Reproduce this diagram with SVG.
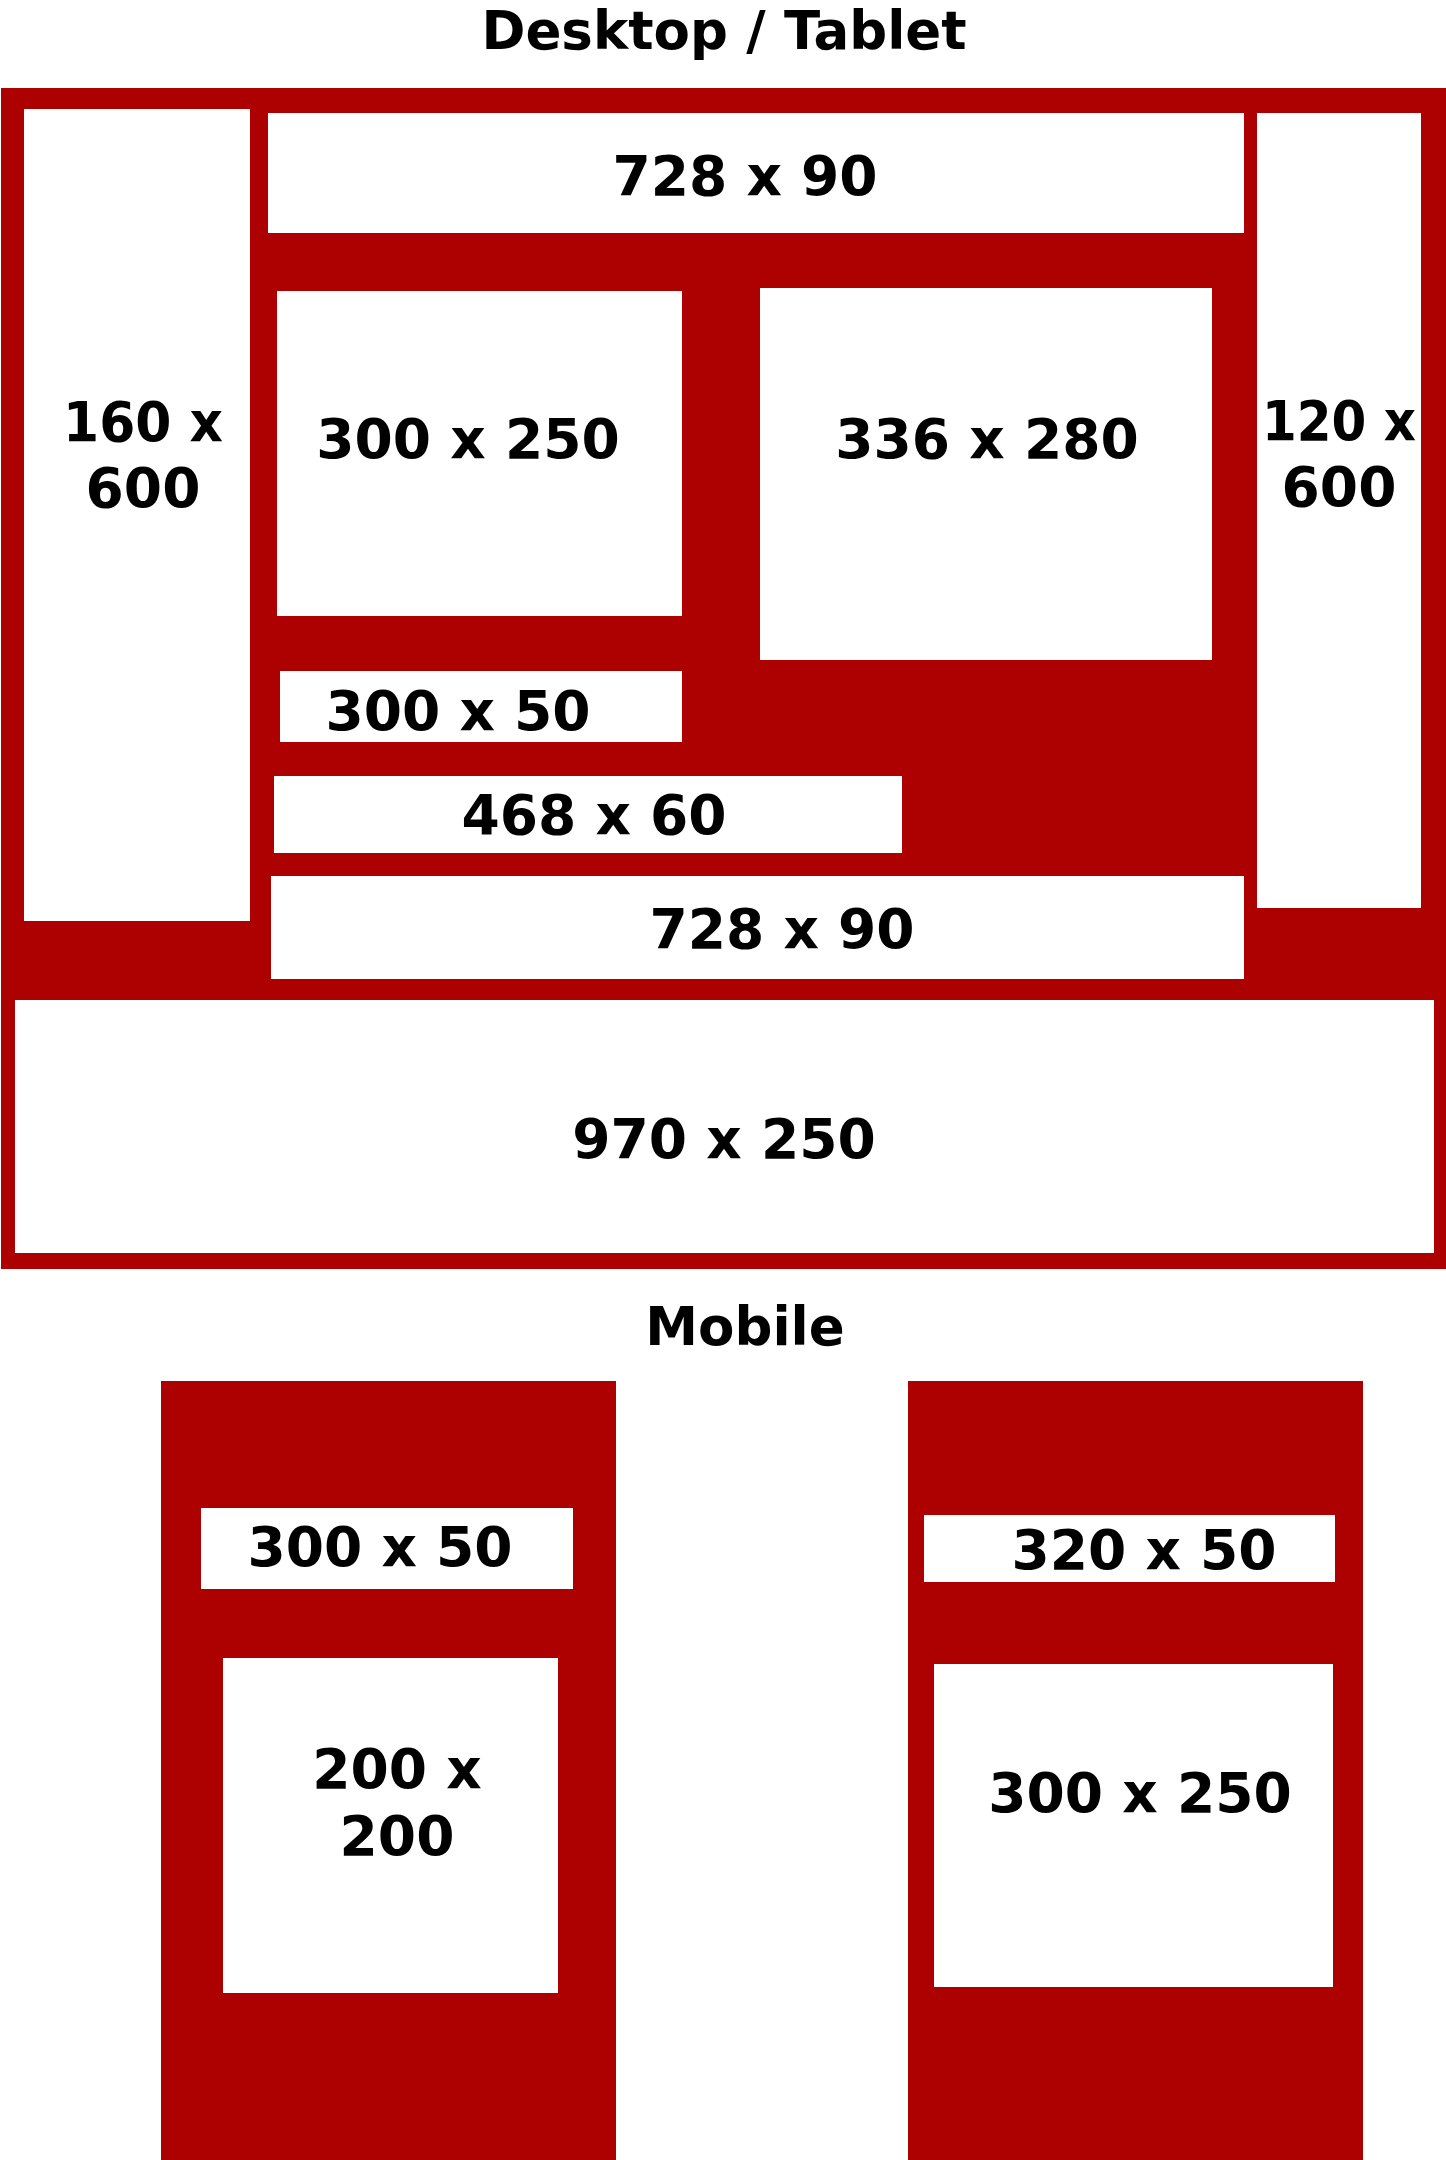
<svg xmlns="http://www.w3.org/2000/svg" width="1446" height="2160" viewBox="0 0 1446 2160">
<style>
.bg{fill:#ffffff}
.red{fill:#ad0000}
.box{fill:#ffffff}
.t{font-family:"DejaVu Sans","Liberation Sans",sans-serif;font-weight:bold;font-size:55px;fill:#000000;text-anchor:middle}
.h{font-family:"DejaVu Sans","Liberation Sans",sans-serif;font-weight:bold;font-size:53px;fill:#000000;text-anchor:middle}
</style>
<rect class="bg" x="0" y="0" width="1446" height="2160"/>
<g id="desktop">
  <text class="h" x="724" y="49">Desktop / Tablet</text>
  <rect id="desktop-frame" class="red" x="1" y="88" width="1445" height="1181"/>
  <g id="ad-160x600"><rect class="box" x="24" y="109" width="226" height="812"/><text class="t" x="143" y="441" textLength="160" lengthAdjust="spacingAndGlyphs">160 x</text><text class="t" x="143" y="507">600</text></g>
  <g id="ad-728x90-top"><rect class="box" x="268" y="113" width="976" height="120"/><text class="t" x="745" y="195">728 x 90</text></g>
  <g id="ad-120x600"><rect class="box" x="1257" y="113" width="164" height="795"/><text class="t" x="1339" y="440" textLength="154" lengthAdjust="spacingAndGlyphs">120 x</text><text class="t" x="1339" y="506">600</text></g>
  <g id="ad-300x250"><rect class="box" x="277" y="291" width="405" height="325"/><text class="t" x="468" y="458">300 x 250</text></g>
  <g id="ad-336x280"><rect class="box" x="760" y="288" width="452" height="372"/><text class="t" x="987" y="458">336 x 280</text></g>
  <g id="ad-300x50"><rect class="box" x="280" y="671" width="402" height="71"/><text class="t" x="458" y="730">300 x 50</text></g>
  <g id="ad-468x60"><rect class="box" x="274" y="776" width="628" height="77"/><text class="t" x="594" y="834">468 x 60</text></g>
  <g id="ad-728x90-bottom"><rect class="box" x="271" y="876" width="973" height="103"/><text class="t" x="782" y="948">728 x 90</text></g>
  <g id="ad-970x250"><rect class="box" x="15" y="1000" width="1419" height="253"/><text class="t" x="724" y="1158">970 x 250</text></g>
</g>
<g id="mobile">
  <text class="h" x="745" y="1345">Mobile</text>
  <g id="phone-left">
    <rect class="red" x="161" y="1381" width="455" height="779"/>
    <g id="m-300x50"><rect class="box" x="201" y="1508" width="372" height="81"/><text class="t" x="380" y="1566">300 x 50</text></g>
    <g id="m-200x200"><rect class="box" x="223" y="1658" width="335" height="335"/><text class="t" x="397" y="1788">200 x</text><text class="t" x="397" y="1855">200</text></g>
  </g>
  <g id="phone-right">
    <rect class="red" x="908" y="1381" width="455" height="779"/>
    <g id="m-320x50"><rect class="box" x="924" y="1515" width="411" height="67"/><text class="t" x="1144" y="1569">320 x 50</text></g>
    <g id="m-300x250"><rect class="box" x="934" y="1664" width="399" height="323"/><text class="t" x="1140" y="1812">300 x 250</text></g>
  </g>
</g>
<g id="connectors"/>
</svg>
